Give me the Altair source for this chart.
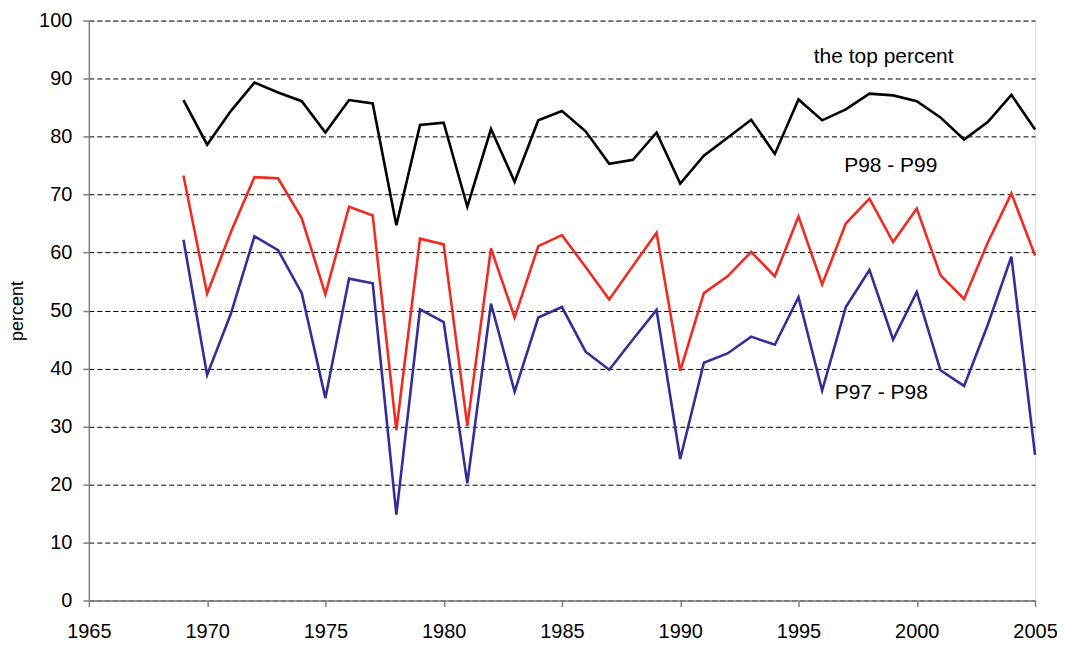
import altair as alt
import pandas as pd

years = list(range(1969, 2006))
top_percent = [86.3, 78.6, 84.4, 89.3, 87.6, 86.1, 80.7, 86.3, 85.7, 64.7, 82.0, 82.4, 67.9,
               81.3, 72.2, 82.8, 84.4, 80.9, 75.3, 76.0, 80.7, 71.9, 76.7, 79.8, 82.9, 77.0,
               86.4, 82.8, 84.7, 87.4, 87.1, 86.1, 83.3, 79.5, 82.5, 87.2, 81.2]
p98_p99 = [73.3, 52.9, 63.5, 73.0, 72.8, 65.9, 52.8, 67.9, 66.4, 29.4, 62.4, 61.4, 30.1,
           60.7, 48.8, 61.1, 63.0, 57.5, 51.9, 57.7, 63.4, 39.6, 53.0, 55.9, 60.1, 55.9,
           66.2, 54.5, 65.0, 69.3, 61.8, 67.6, 56.1, 52.0, 61.7, 70.2, 59.5]
p97_p98 = [62.2, 38.9, 49.4, 62.8, 60.4, 53.0, 34.9, 55.5, 54.7, 14.8, 50.2, 48.0, 20.2,
           51.2, 36.0, 48.8, 50.6, 42.9, 39.8, 45.0, 50.1, 24.4, 41.0, 42.6, 45.5, 44.1,
           52.3, 36.2, 50.6, 57.0, 45.0, 53.2, 39.7, 37.0, 47.5, 59.3, 25.1]

series_names = ["the top percent", "P98 - P99", "P97 - P98"]
series_colors = ["#000000", "#ef2b22", "#332f96"]

label_texts = ["the top percent", "P98 - P99", "P97 - P98"]
label_x = [1998.6, 1998.9, 1998.5]
label_y = [93.8, 75.0, 35.8]

x_ticks = list(range(1965, 2006, 5))
y_ticks = list(range(0, 101, 10))

rows = []
for name, vals in zip(series_names, [top_percent, p98_p99, p97_p98]):
    for yr, v in zip(years, vals):
        rows.append({"year": yr, "value": v, "series": name})
df = pd.DataFrame(rows)
labels_df = pd.DataFrame({"text": label_texts, "year": label_x, "value": label_y})

FONT = "Liberation Sans"

x_enc = alt.X("year:Q",
              scale=alt.Scale(domain=[1965, 2005], nice=False, zero=False),
              axis=alt.Axis(values=x_ticks, format="d", grid=False, title=None,
                            tickSize=6, tickColor="#808080", domainColor="#808080",
                            domainWidth=1.5, tickWidth=1.5,
                            labelFontSize=20, labelFont=FONT, labelColor="#000000",
                            labelPadding=15, labelFlush=False, labelOverlap=False))
y_enc = alt.Y("value:Q",
              scale=alt.Scale(domain=[0, 100], nice=False),
              axis=alt.Axis(values=y_ticks, grid=True, gridDash=[5, 3], gridColor="#000000",
                            gridWidth=1, tickSize=6, tickColor="#808080", domainColor="#808080",
                            domainWidth=1.5, tickWidth=1.5,
                            labelFontSize=20, labelFont=FONT, labelColor="#000000",
                            labelPadding=11, title="percent", titleFont=FONT,
                            titleFontSize=18, titleFontWeight="normal", titleColor="#000000",
                            titlePadding=12))

lines = alt.Chart(df).mark_line(strokeWidth=2.6).encode(
    x=x_enc,
    y=y_enc,
    color=alt.Color("series:N", scale=alt.Scale(domain=series_names, range=series_colors),
                    legend=None),
    detail="series:N",
)

texts = alt.Chart(labels_df).mark_text(font=FONT, fontSize=21, color="#000000",
                                       align="center", baseline="middle").encode(
    x=alt.X("year:Q"),
    y=alt.Y("value:Q"),
    text="text:N",
)

chart = alt.layer(lines, texts).properties(
    width=948, height=581,
    autosize=alt.AutoSizeParams(type="none"),
    padding={"left": 81, "top": 12, "right": 22, "bottom": 42},
).configure_view(strokeWidth=0).configure(background="#ffffff")

chart.save("out.html", embed_options={"renderer": "svg", "actions": False})
